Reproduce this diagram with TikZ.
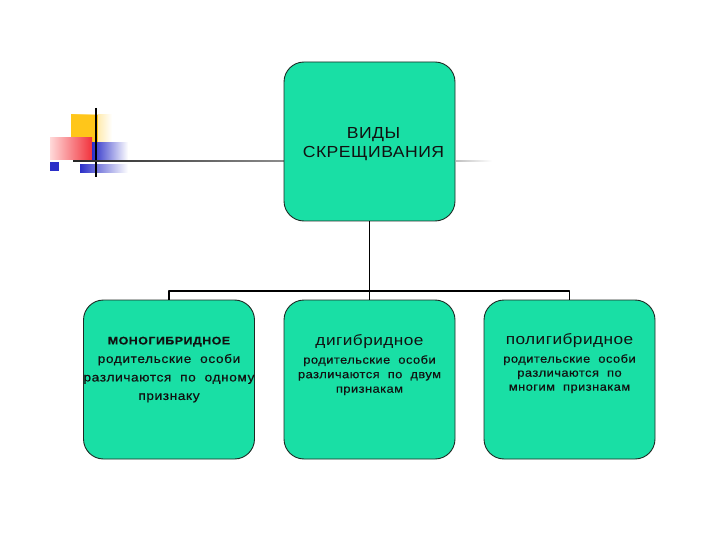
\documentclass[tikz,border=0pt]{standalone}
\usepackage{fontspec}
\setmainfont{Liberation Sans}
\usetikzlibrary{positioning}
\definecolor{teal}{HTML}{19DFA5}
\definecolor{ink}{HTML}{111111}
\definecolor{edge}{HTML}{1E2A24}
\definecolor{decoyel}{HTML}{FFC61A}
\definecolor{decored}{HTML}{F2323C}
\definecolor{decoblu}{HTML}{2B2FC8}
\tikzset{
  every picture/.style={line join=round},
  box/.style={draw=edge, fill=teal, rounded corners=20pt, line width=0.9pt,
    minimum width=171pt, minimum height=159pt, inner sep=0pt},
  txt/.style={align=center, text=ink, inner sep=0pt},
  head/.style={txt, font=\fontsize{16}{19}\selectfont\addfontfeatures{FakeStretch=1.1,LetterSpace=3}},
  subhead/.style={txt, font=\fontsize{15}{17}\selectfont\addfontfeatures{FakeStretch=1.15,LetterSpace=3}},
  body/.style={txt, font=\fontsize{11.5}{14.5}\selectfont\addfontfeatures{FakeStretch=1.12,LetterSpace=4,FakeBold=0.4}},
  conn/.style={draw=black, line width=1.3pt},
}
\begin{document}
\begin{tikzpicture}[x=1pt,y=-1pt]
  \useasboundingbox (0,0) rectangle (720,540);
  % ---------------- corner ornament ----------------
  \shade[left color=decoyel, right color=white] (71,115) rectangle (112,143);
  \fill[decoyel] (71,115) rectangle (98,143);
  \shade[left color=red!15, right color=decored] (50,138) rectangle (92,160);
  \shade[left color=decoblu, right color=white] (92,143) rectangle (128,160);
  \shade[left color=decoblu, right color=white] (80,165) rectangle (128,173);
  \fill[decoblu] (50,162) rectangle (59,171);
  \draw[line width=1.2pt] (96,108) -- (96,177);
  \shade[left color=black!85, right color=black!45] (73,160.3) rectangle (284,161.7);
  \shade[left color=black!25, right color=white] (456,160.6) rectangle (492,161.4);

  % ---------------- boxes ----------------
  \node[box] (kinds) at (369.5,141.5) {};
  \node[head] (kindstxt) at ([xshift=4pt,yshift=-3pt]kinds.center) {ВИДЫ\\СКРЕЩИВАНИЯ};

  \node[box] (mono) at (169,379.5) {};
  \node[box] (di) at (369.5,379.5) {};
  \node[box] (poly) at (569.5,379.5) {};

  \node[txt, anchor=north, font=\fontsize{12.2}{18.5}\selectfont\addfontfeatures{FakeStretch=1.12,LetterSpace=5,FakeBold=0.4}]
    (monotxt) at ([yshift=-37pt]mono.north)
    {{\fontsize{11}{18.5}\selectfont\bfseries МОНОГИБРИДНОЕ}\\родительские\ \ особи\\различаются\ \ по\ \ одному\\признаку};
  \node[subhead, anchor=north] (ditxt) at ([yshift=-35pt]di.north) {дигибридное};
  \node[body, below=6pt of ditxt] (dibody)
    {родительские\ \ особи\\различаются\ \ по\ \ двум\\признакам};
  \node[subhead, anchor=north] (polytxt) at ([yshift=-34pt]poly.north) {полигибридное};
  \node[body, below=6pt of polytxt, font=\fontsize{11.5}{14}\selectfont\addfontfeatures{FakeStretch=1.12,LetterSpace=4,FakeBold=0.4}] (polybody)
    {родительские\ \ особи\\различаются\ \ по\\многим\ \ признакам};

  % ---------------- connectors ----------------
  \coordinate (bus) at (369.5,291);
  \draw[conn] (kinds.south) -- (bus);
  \draw[conn] (mono.north) -- (mono.north |- bus) -- (poly.north |- bus) -- (poly.north);
  \draw[conn] (di.north) -- (bus);
\end{tikzpicture}
\end{document}
